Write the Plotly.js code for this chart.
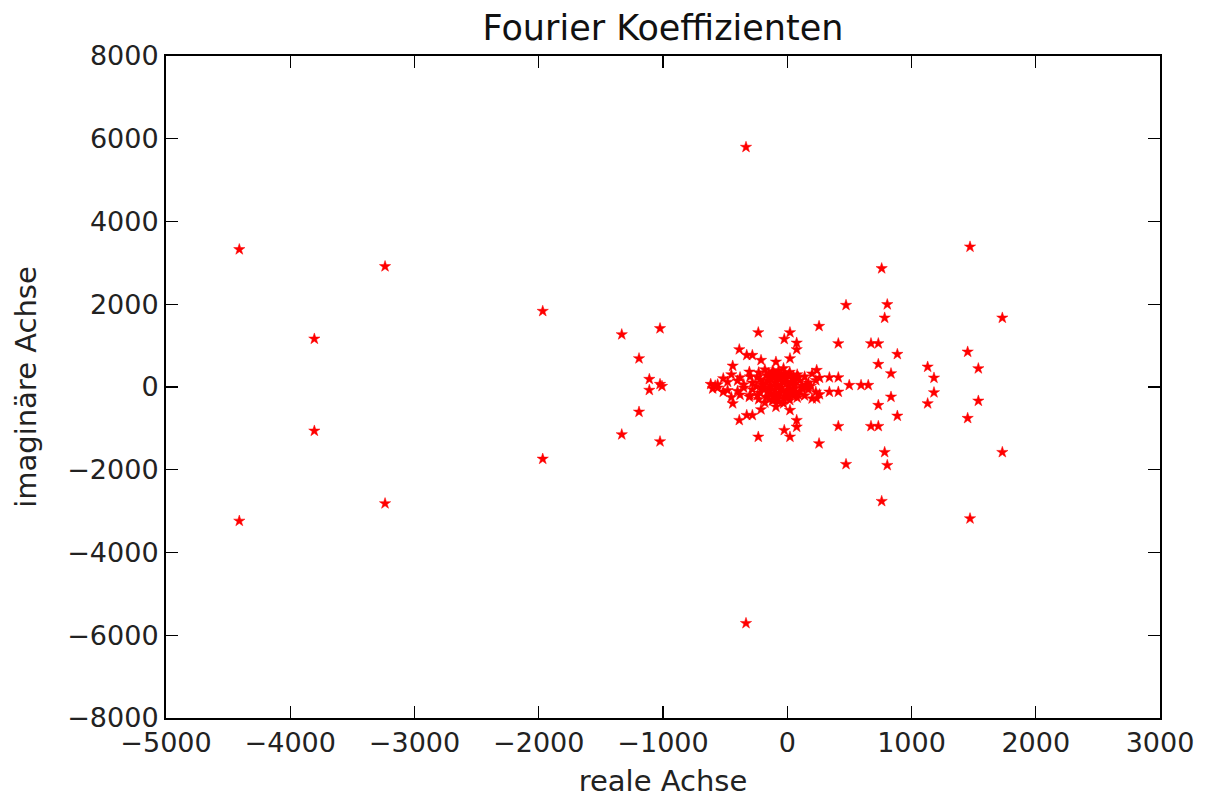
<!DOCTYPE html>
<html>
<head>
<meta charset="utf-8">
<script src="https://cdn.plot.ly/plotly-3.0.1.min.js"></script>
<style>html,body{margin:0;padding:0;background:#fff;}#chart{width:1206px;height:798px;}</style>
</head>
<body>
<div id="chart"></div>
<script>
// Outer / isolated Fourier coefficients (real part, imaginary part)
const realOuter = [
  -4410, -4410, -3806, -3806, -3237, -3237, -1968, -1968, -332, -332,
  -1332, -1332, -1024, -1024, -1193, -1193, -1110, -1110, -1024, -1008,
  1471, 1471, 760, 760, 805, 805, 1731, 1731, 784, 784,
  886, 886, 1452, 1452, 835, 835, 1130, 1130, 1181, 1181,
  1538, 1538, 473, 473, 256, 256, 411, 411, 674, 674,
  733, 733, 733, 733, 237, 237, 339, 339, 411, 411,
  499, 594, 652
];
const imagOuter = [
  3325, -3238, 1163, -1061, 2914, -2816, 1833, -1739, 5798, -5711,
  1269, -1149, 1415, -1318, 689, -602, 189, -75, 68, 19,
  3388, -3180, 2865, -2761, 1995, -1891, 1671, -1577, 1671, -1577,
  793, -699, 849, -754, 326, -239, 486, -399, 220, -133,
  447, -336, 1978, -1867, 1470, -1366, 1052, -948, 1052, -948,
  1052, -948, 551, -440, 406, -278, 230, -118, 230, -118,
  44, 44, 44
];
// Coefficients around the central cluster
const realInner = [
  -233, -233, 22, 22, -24, -24, 76, 76, 76, 76,
  -386, -386, -326, -326, -281, -281, -211, -211, 22, 22,
  -91, -91, -439, -439, -305, -305, -515, -515, -616, -580, -600
];
const imagInner = [
  1318, -1206, 1318, -1206, 1156, -1045, 1066, -965, 907, -803,
  907, -803, 769, -682, 769, -682, 648, -544, 689, -561,
  607, -481, 510, -399, 365, -239, 206, -118, 68, 30, -40
];
// Dense core of the cluster
const realCore = [
  -450, -450, -400, -400, -350, -350, -300, -300, -280, -280,
  -250, -230, -230, -220, -220, -200, -200, -180, -180, -170,
  -170, -150, -150, -140, -130, -120, -120, -110, -110, -100,
  -100, -80, -70, -70, -60, -60, -50, -50, -30, -30,
  -20, -20, 0, 0, 10, 20, 20, 40, 40, 60,
  60, 80, 80, 100, 100, 120, 120, 140, 140, 170,
  170, 190, 200, 200, 230, 230, -480, -480, -560, -560,
  -190, -160, -130, -100, -70, -40, -10, 30, 60, 90,
  -190, -160, -130, -100, -70, -40, -10, 30, 60, 90,
  -150, -110, -70, -30, 10, 50, -150, -110, -70, -30,
  10, 50, -240, -240, 150, 150, -380, -380, 260, 260
];
const imagCore = [
  300, -250, 150, -100, 60, -20, 250, -200, 100, -60,
  20, 350, -300, 180, -140, 60, -20, 420, -380, 280,
  -240, 150, -110, 40, -10, 380, -330, 240, -200, 100,
  -60, 20, 320, -280, 180, -140, 60, -20, 450, -400,
  260, -220, 120, -80, 20, 360, -320, 200, -160, 80,
  -40, 300, -260, 150, -110, 30, -10, 250, -210, 100,
  -60, 20, 320, -280, 160, -120, 120, -80, 60, -20,
  90, 160, 220, 280, 210, 130, 190, 110, 170, 230,
  -50, -120, -180, -240, -170, -90, -150, -70, -130, -190,
  330, 360, 400, 320, 280, 260, -290, -320, -360, -280,
  -240, -220, 240, -200, 60, -20, 230, -190, 220, -180
];

const xTicks = [-5000, -4000, -3000, -2000, -1000, 0, 1000, 2000, 3000];
const yTicks = [-8000, -6000, -4000, -2000, 0, 2000, 4000, 6000, 8000];

const xs = realOuter.concat(realInner, realCore);
const ys = imagOuter.concat(imagInner, imagCore);

const trace = {
  x: xs, y: ys, type: 'scatter', mode: 'markers',
  marker: {symbol: 'star', size: 8.5, color: '#ff0000', line: {color: '#ff0000', width: 0.5}},
  hoverinfo: 'x+y'
};

const fontFam = 'DejaVu Sans, sans-serif';
const axisCommon = {
  showgrid: false, zeroline: false, showline: true, linecolor: '#000', linewidth: 2,
  mirror: 'ticks', ticks: 'inside', ticklen: 12, tickwidth: 1.3, tickcolor: '#000',
  tickfont: {family: fontFam, size: 27, color: '#222'}, tickmode: 'array'
};

const layout = {
  width: 1206, height: 798,
  margin: {l: 166, r: 46, t: 56, b: 80},
  paper_bgcolor: '#fff', plot_bgcolor: '#fff',
  showlegend: false,
  title: {text: 'Fourier Koeffizienten', font: {family: fontFam, size: 35, color: '#111'},
          x: 0.5, xref: 'paper', y: 0.965, yref: 'container', yanchor: 'middle'},
  xaxis: Object.assign({}, axisCommon, {
    range: [-5000, 3000], tickvals: xTicks, ticktext: xTicks.map(v => String(v).replace('-', '\u2212')),
    title: {text: 'reale Achse', font: {family: fontFam, size: 29, color: '#222'}, standoff: 16}
  }),
  yaxis: Object.assign({}, axisCommon, {
    range: [-8000, 8000], tickvals: yTicks, ticktext: yTicks.map(v => String(v).replace('-', '\u2212')),
    title: {text: 'imaginäre Achse', font: {family: fontFam, size: 29, color: '#222'}, standoff: 22}
  })
};

Plotly.newPlot('chart', [trace], layout, {displayModeBar: false, staticPlot: true});
</script>
</body>
</html>
